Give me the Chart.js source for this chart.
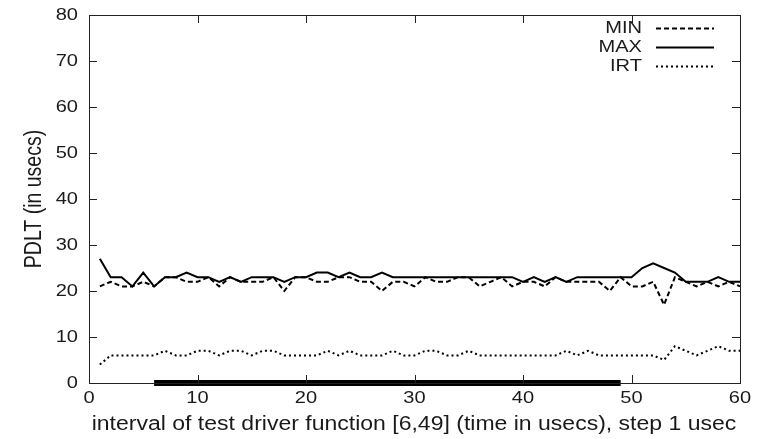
<!DOCTYPE html>
<html>
<head>
<meta charset="utf-8">
<script src="https://cdn.jsdelivr.net/npm/chart.js@4/dist/chart.umd.min.js"></script>
<style>
  html, body { margin: 0; padding: 0; background: #fff; }
  #wrap { width: 767px; height: 439px; }
</style>
</head>
<body>
<div id="wrap"><canvas id="grafico"></canvas></div>
<script>
// x = 1..60 (usec step)
const xs = Array.from({ length: 60 }, (_, i) => i + 1);

const minVals = [21, 22, 21, 21, 22, 21, 23, 23, 22, 22, 23, 21, 23, 22, 22, 22, 23, 20, 23, 23,
                 22, 22, 23, 23, 22, 22, 20, 22, 22, 21, 23, 22, 22, 23, 23, 21, 22, 23, 21, 22,
                 22, 21, 23, 22, 22, 22, 22, 20, 23, 21, 21, 22, 17, 23, 22, 21, 22, 21, 22, 21];
const maxVals = [27, 23, 23, 21, 24, 21, 23, 23, 24, 23, 23, 22, 23, 22, 23, 23, 23, 22, 23, 23,
                 24, 24, 23, 24, 23, 23, 24, 23, 23, 23, 23, 23, 23, 23, 23, 23, 23, 23, 23, 22,
                 23, 22, 23, 22, 23, 23, 23, 23, 23, 23, 25, 26, 25, 24, 22, 22, 22, 23, 22, 22];
const irtVals = [4, 6, 6, 6, 6, 6, 7, 6, 6, 7, 7, 6, 7, 7, 6, 7, 7, 6, 6, 6,
                 6, 7, 6, 7, 6, 6, 6, 7, 6, 6, 7, 7, 6, 6, 7, 6, 6, 6, 6, 6,
                 6, 6, 6, 7, 6, 7, 6, 6, 6, 6, 6, 6, 5, 8, 7, 6, 7, 8, 7, 7];

// test driver interval [6,49]
const intervalo = [6, 49];

const xTicks = [0, 10, 20, 30, 40, 50, 60];
const yTicks = [0, 10, 20, 30, 40, 50, 60, 70, 80];

const tituloX = "interval of test driver function [6,49] (time in usecs), step 1 usec";
const tituloY = "PDLT (in usecs)";

const fonte = "'Liberation Sans', Arial, Helvetica, sans-serif";
const esticar = 1.18; // o texto original parece esticado na horizontal
const corTexto = "#1a1a1a";

function pontos(vals) {
    return xs.map((x, i) => ({ x: x, y: vals[i] }));
}

function texto(ctx, s, x, y, align, rot) {
    ctx.save();
    ctx.translate(x, y);
    ctx.scale(esticar, 1);
    if (rot) ctx.rotate(rot);
    ctx.textAlign = align;
    ctx.textBaseline = "middle";
    ctx.fillText(s, 0, 0);
    ctx.restore();
}

// Moldura + ticks internos (estilo gnuplot) + rotulos + legenda
const molduraPlugin = {
    id: "moldura",
    afterDraw(chart) {
        const { ctx, chartArea: a, scales } = chart;
        const t = 8;
        ctx.save();
        ctx.strokeStyle = "#222";
        ctx.lineWidth = 1;
        ctx.strokeRect(a.left + 0.5, a.top + 0.5, a.right - a.left, a.bottom - a.top);
        ctx.beginPath();
        yTicks.forEach(v => {
            const y = Math.round(scales.y.getPixelForValue(v)) + 0.5;
            ctx.moveTo(a.left, y); ctx.lineTo(a.left + t, y);
            ctx.moveTo(a.right, y); ctx.lineTo(a.right - t, y);
        });
        xTicks.forEach(v => {
            const x = Math.round(scales.x.getPixelForValue(v)) + 0.5;
            ctx.moveTo(x, a.bottom); ctx.lineTo(x, a.bottom - t);
            ctx.moveTo(x, a.top); ctx.lineTo(x, a.top + t);
        });
        ctx.stroke();

        // rotulos dos eixos
        ctx.fillStyle = corTexto;
        ctx.font = "17px " + fonte;
        yTicks.forEach(v => texto(ctx, String(v), a.left - 11, scales.y.getPixelForValue(v), "right"));
        xTicks.forEach(v => texto(ctx, String(v), scales.x.getPixelForValue(v), a.bottom + 15, "center"));

        ctx.font = "19.5px " + fonte;
        texto(ctx, tituloX, (a.left + a.right) / 2 - 0.5, 425, "center");
        texto(ctx, tituloY, 35, (a.top + a.bottom) / 2, "center", -Math.PI / 2);

        // legenda
        const itens = chart.data.datasets.filter(d => d.label);
        ctx.font = "17px " + fonte;
        itens.forEach((d, i) => {
            const y = 28 + i * 19;
            texto(ctx, d.label, 642, y, "right");
            ctx.beginPath();
            ctx.strokeStyle = "#000";
            ctx.lineWidth = d.borderWidth;
            ctx.setLineDash(d.borderDash || []);
            ctx.moveTo(656, y + 0.5);
            ctx.lineTo(714, y + 0.5);
            ctx.stroke();
        });
        ctx.restore();
    }
};

const grafico = new Chart(document.getElementById("grafico"), {
    type: "line",
    data: {
        datasets: [
            {
                label: "MIN",
                data: pontos(minVals),
                borderColor: "#000",
                borderWidth: 2,
                borderDash: [5, 3],
                pointRadius: 0,
                tension: 0
            },
            {
                label: "MAX",
                data: pontos(maxVals),
                borderColor: "#000",
                borderWidth: 2,
                pointRadius: 0,
                tension: 0
            },
            {
                label: "IRT",
                data: pontos(irtVals),
                borderColor: "#000",
                borderWidth: 2,
                borderDash: [2, 3],
                pointRadius: 0,
                tension: 0
            },
            {
                label: "",
                data: intervalo.map(x => ({ x: x, y: 0 })),
                borderColor: "#000",
                borderWidth: 6,
                borderCapStyle: "butt",
                pointRadius: 0,
                clip: false
            }
        ]
    },
    options: {
        responsive: true,
        maintainAspectRatio: false,
        animation: false,
        layout: { padding: { top: 15, right: 27, left: 0, bottom: 0 } },
        plugins: {
            legend: { display: false },
            tooltip: { enabled: false }
        },
        scales: {
            x: {
                type: "linear",
                min: 0,
                max: 60,
                afterFit: s => { s.height = 56; },
                afterBuildTicks: s => { s.ticks = xTicks.map(v => ({ value: v })); },
                grid: { display: false, drawTicks: false },
                border: { display: false },
                ticks: { display: false }
            },
            y: {
                min: 0,
                max: 80,
                afterFit: s => { s.width = 89; },
                afterBuildTicks: s => { s.ticks = yTicks.map(v => ({ value: v })); },
                grid: { display: false, drawTicks: false },
                border: { display: false },
                ticks: { display: false }
            }
        }
    },
    plugins: [molduraPlugin]
});
</script>
</body>
</html>
